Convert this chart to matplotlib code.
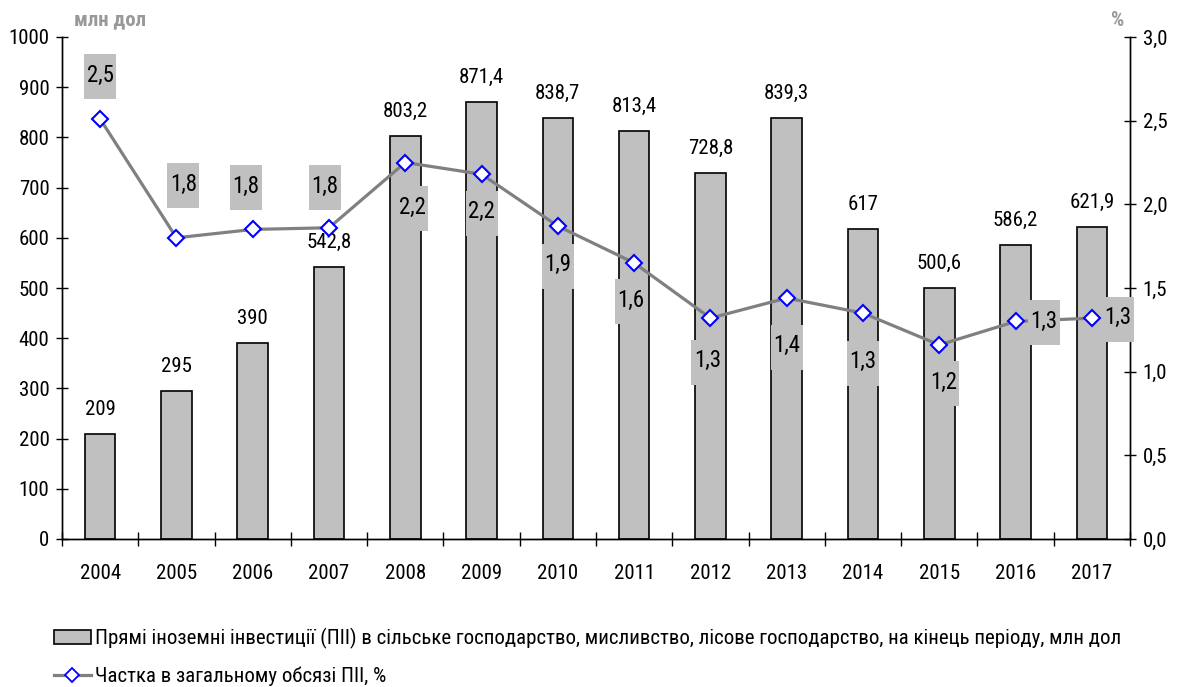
import numpy as np
import matplotlib
matplotlib.use('Agg')
import matplotlib.pyplot as plt
from matplotlib import font_manager
from matplotlib.patches import Patch, Rectangle
from matplotlib.lines import Line2D
from matplotlib.offsetbox import DrawingArea, AnnotationBbox
from matplotlib.ticker import FuncFormatter, FixedLocator

# the original uses a narrow font, take the first one that is there
font = 'Liberation Sans'
for name in ['Liberation Sans Narrow', 'Arial Narrow', 'Roboto Condensed', 'PT Sans Narrow',
             'Archivo Narrow', 'Fira Sans Condensed', 'Open Sans Condensed']:
    try:
        font_manager.findfont(name, fallback_to_default=False)
        font = name
        break
    except Exception:
        pass
plt.rcParams['font.family'] = [font, 'Liberation Sans', 'DejaVu Sans']

years = ['2004', '2005', '2006', '2007', '2008', '2009', '2010',
         '2011', '2012', '2013', '2014', '2015', '2016', '2017']
fdi = [209, 295, 390, 542.8, 803.2, 871.4, 838.7, 813.4, 728.8, 839.3, 617, 500.6, 586.2, 621.9]
fdi_labels = ['209', '295', '390', '542,8', '803,2', '871,4', '838,7', '813,4',
              '728,8', '839,3', '617', '500,6', '586,2', '621,9']
share = [2.51, 1.80, 1.85, 1.86, 2.25, 2.18, 1.87, 1.65, 1.32, 1.44, 1.35, 1.16, 1.30, 1.32]
share_labels = ['2,5', '1,8', '1,8', '1,8', '2,2', '2,2', '1,9', '1,6',
                '1,3', '1,4', '1,3', '1,2', '1,3', '1,3']
# label box offsets from the marker, in pixels (x right, y down)
box_dx = [0, 7, -7, -4, 7, 0, 0, -3, -3, 0, 0, 4, 28, 26]
box_dy = [-42, -52, -42, -40, 46, 39, 40, 39, 44, 49, 50, 39, 1, 1]

DPI = 100
PT = 72 / DPI  # points per pixel
FS = 15

fig = plt.figure(figsize=(11.79, 6.87), dpi=DPI)
ax = fig.add_axes([62 / 1179, 1 - 539 / 687, (1130 - 62) / 1179, (539 - 37) / 687])
ax2 = ax.twinx()

x = np.arange(len(years))
ax.bar(x, fdi, width=0.4, color='#c0c0c0', edgecolor='black', linewidth=1.2, zorder=2)
for xi, v, lab in zip(x, fdi, fdi_labels):
    ax.annotate(lab, (xi, v), xytext=(0, 19 * PT), textcoords='offset points',
                ha='center', va='baseline', fontsize=FS, zorder=6)

ax.set_xlim(-0.5, len(years) - 0.5)
ax.set_ylim(0, 1000)
ax.set_yticks(np.arange(0, 1001, 100))
ax.set_xticks(x)
ax.set_xticklabels(years)
ax.xaxis.set_minor_locator(FixedLocator(np.arange(-0.5, len(years), 1)))
ax.tick_params(axis='x', which='major', length=0, pad=18, labelsize=FS)
ax.tick_params(axis='x', which='minor', direction='inout', length=10, width=1)
ax.tick_params(axis='y', direction='inout', length=8, width=1, pad=5, labelsize=FS)

ax2.set_ylim(0, 3)
ax2.set_yticks(np.arange(0, 3.01, 0.5))
ax2.yaxis.set_major_formatter(FuncFormatter(lambda v, p: f'{v:.1f}'.replace('.', ',')))
ax2.tick_params(axis='y', direction='inout', length=8, width=1, pad=5, labelsize=FS)

for a in (ax, ax2):
    a.spines['top'].set_visible(False)
    for s in ('left', 'right', 'bottom'):
        a.spines[s].set_linewidth(1)
        a.spines[s].set_color('black')

ax2.plot(x, share, color='#808080', lw=2.3, marker='D', ms=8,
         mfc='white', mec='#0000ff', mew=1.5, zorder=3)

# grey boxes with share values
bw, bh = 32 * PT, 45 * PT
for xi, v, lab, dx, dy in zip(x, share, share_labels, box_dx, box_dy):
    da = DrawingArea(bw, bh, 0, 0)
    da.add_artist(Rectangle((0, 0), bw, bh, facecolor='#c0c0c0', edgecolor='none'))
    da.add_artist(plt.Text(bw / 2, bh / 2 + 1, lab, ha='center', va='center', fontsize=16.5,
                           family=plt.rcParams['font.family']))
    ab = AnnotationBbox(da, (xi, v), xybox=(dx * PT, -dy * PT), boxcoords='offset points',
                        frameon=False, pad=0, box_alignment=(0.5, 0.5), zorder=5)
    ax2.add_artist(ab)

fig.text(110 / 1179, 1 - 20 / 687, 'млн дол', ha='center', va='center',
         fontsize=15, fontweight='bold', color='#999999')
fig.text(1118 / 1179, 1 - 20 / 687, '%', ha='center', va='center',
         fontsize=15, fontweight='bold', color='#999999')

handles = [
    Patch(facecolor='#c0c0c0', edgecolor='black', linewidth=1.2),
    Line2D([0], [0], color='#808080', lw=2.3, marker='D', ms=7,
           mfc='white', mec='#0000ff', mew=1.3),
]
labels = ['Прямі іноземні інвестиції (ПІІ) в сільське господарство, мисливство, лісове господарство, на кінець періоду, млн дол',
          'Частка в загальному обсязі ПІІ, %']
fig.legend(handles, labels, loc='upper left', bbox_to_anchor=(0.046, 0.086),
           frameon=False, fontsize=FS, handlelength=1.75, handletextpad=0.2,
           labelspacing=0.85, borderpad=0, borderaxespad=0)

fig.savefig('out.png', dpi=DPI)
